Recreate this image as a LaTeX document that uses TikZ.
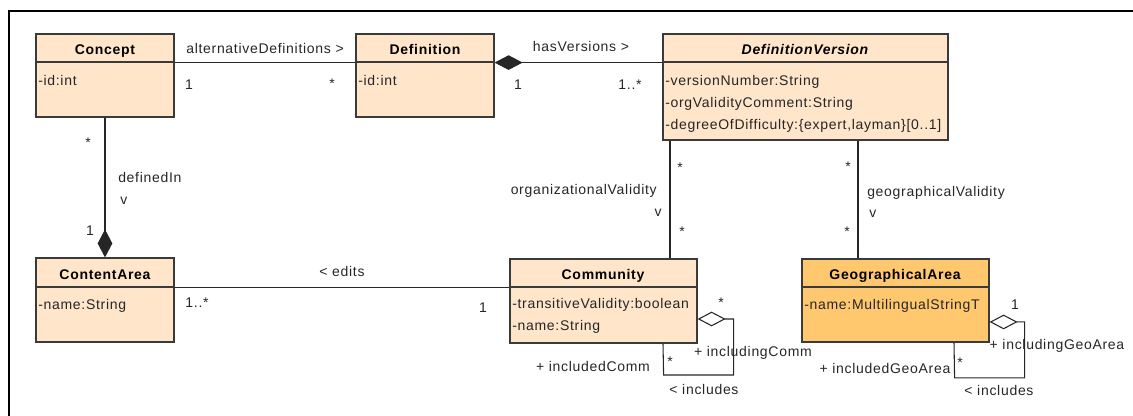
\documentclass[tikz,border=0pt]{standalone}
\usepackage{fontspec}
\setmainfont{Liberation Sans}[LetterSpace=5]
\usepackage{tikz}
\usetikzlibrary{fit,arrows.meta}
\definecolor{peach}{HTML}{FFE5CA}
\definecolor{orange}{HTML}{FFC86E}
\definecolor{edge}{HTML}{3A3A3A}
\definecolor{ink}{HTML}{262626}
\tikzset{
  hdr/.style={draw=edge, fill=peach, line width=0.9pt, inner sep=0pt},
  ttl/.style={anchor=base, inner sep=0pt, text=black, font=\bfseries\fontsize{10.5}{12}\selectfont},
  att/.style={anchor=base west, inner sep=0pt, text=ink, font=\fontsize{10.5}{12}\selectfont},
  lab/.style={anchor=base, inner sep=0pt, text=ink, font=\fontsize{10.5}{12}\selectfont},
  assoc/.style={draw=ink, line width=0.8pt},
  comp/.style={assoc, arrows={Diamond[length=21pt,width=11pt]-}},
  aggr/.style={assoc, arrows={Diamond[open,length=21pt,width=11pt]-}},
}
\begin{document}
\begin{tikzpicture}[x=0.75pt,y=-0.75pt]
  \useasboundingbox (0,0) rectangle (1133,416);
  \draw[line width=1.9pt] (9,416) -- (9,11) -- (1133,11);

  % classes
  \node[hdr, fit={(36,34) (174,62)}] (concept) {};
  \node[hdr, fit={(36,62) (174,117)}] (conceptB) {};
  \node[ttl] (conceptT) at (105,55) {Concept};
  \node[att] (conceptA) at (38,86) {-id:int};

  \node[hdr, fit={(356,34) (494,62)}] (definition) {};
  \node[hdr, fit={(356,62) (494,117)}] (definitionB) {};
  \node[ttl] (definitionT) at (425,55) {Definition};
  \node[att] (definitionA) at (358,86) {-id:int};

  \node[hdr, fit={(663,34) (948,62)}] (dv) {};
  \node[hdr, fit={(663,62) (948,140)}] (dvB) {};
  \node[ttl, font=\bfseries\itshape\fontsize{10.5}{12}\selectfont] (dvT) at (805,55) {DefinitionVersion};
  \node[att] (dvA1) at (665,86) {-versionNumber:String};
  \node[att] (dvA2) at (665,108) {-orgValidityComment:String};
  \node[att] (dvA3) at (665,130) {-degreeOfDifficulty:\{expert,layman\}[0..1]};

  \node[hdr, fit={(36,258) (174,287)}] (contentarea) {};
  \node[hdr, fit={(36,287) (174,342)}] (contentareaB) {};
  \node[ttl] (contentareaT) at (105,280) {ContentArea};
  \node[att] (contentareaA) at (38,310) {-name:String};

  \node[hdr, fit={(510,259) (697,287)}] (community) {};
  \node[hdr, fit={(510,287) (697,343)}] (communityB) {};
  \node[ttl] (communityT) at (603,280) {Community};
  \node[att] (communityA1) at (512,309) {-transitiveValidity:boolean};
  \node[att] (communityA2) at (512,331) {-name:String};

  \node[hdr, fill=orange, fit={(802,259) (989,287)}] (geo) {};
  \node[hdr, fill=orange, fit={(802,287) (989,342)}] (geoB) {};
  \node[ttl] (geoT) at (895,280) {GeographicalArea};
  \node[att] (geoA) at (804,310) {-name:MultilingualStringT};

  % associations
  \draw[assoc] (concept.south east) -- (definition.south west);
  \node[lab] (altL) at (265,54) {alternativeDefinitions >};
  \node[lab] (altS) at (189,90) {1};
  \node[lab] (altT) at (332,89) {*};

  \draw[comp] (definition.south east) -- (dv.south west);
  \node[lab] (hasL) at (581,52) {hasVersions >};
  \node[lab] (hasS) at (518,90) {1};
  \node[lab] (hasT) at (630,90) {1..*};

  \draw[comp] (contentarea.north) -- (conceptB.south);
  \node[lab] (defT) at (88,148) {*};
  \node[lab, anchor=base west] (defL) at (118,183) {definedIn};
  \node[lab, anchor=base west] (defV) at (120,205) {v};
  \node[lab] (defS) at (90,236) {1};

  \draw[assoc] (contentarea.south east) -- (community.south west);
  \node[lab] (editL) at (342,277) {< edits};
  \node[lab] (editS) at (197,308) {1..*};
  \node[lab] (editT) at (483,313) {1};

  \coordinate (ovx) at (670,0);
  \draw[assoc] (ovx |- dvB.south) -- (ovx |- community.north);
  \node[lab] (orgS) at (680,173) {*};
  \node[lab, anchor=base east] (orgL) at (657,195) {organizationalValidity};
  \node[lab] (orgV) at (658,217) {v};
  \node[lab] (orgT) at (682,237) {*};

  \coordinate (gvx) at (858,0);
  \draw[assoc] (gvx |- dvB.south) -- (gvx |- geo.north);
  \node[lab] (geoS) at (848,172) {*};
  \node[lab, anchor=base west] (geoL) at (867,197) {geographicalValidity};
  \node[lab, anchor=base west] (geoV) at (869,218) {v};
  \node[lab] (geoTm) at (847,237) {*};

  % self aggregations
  \coordinate (clx) at (663,0);
  \draw[aggr] ([yshift=-3pt]communityB.east) -- ++(36,0) -- ++(0,56) -- ++(-70,0) -- (clx |- communityB.south);
  \node[lab] (incS) at (721,308) {*};
  \node[lab] (incA) at (753,357) {+ includingComm};
  \node[lab] (incT) at (670,367) {*};
  \node[lab] (incB) at (593,372) {+ includedComm};
  \node[lab] (incL) at (704,395) {< includes};

  \coordinate (glx) at (954,0);
  \draw[aggr] ([yshift=-5.6pt]geoB.east) -- ++(35,0) -- ++(0,56) -- ++(-70,0) -- (glx |- geoB.south);
  \node[lab] (gincS) at (1015,310) {1};
  \node[lab] (gincA) at (1057,350) {+ includingGeoArea};
  \node[lab] (gincT) at (960,368) {*};
  \node[lab] (gincB) at (885,374) {+ includedGeoArea};
  \node[lab] (gincL) at (999,396) {< includes};
\end{tikzpicture}
\end{document}
